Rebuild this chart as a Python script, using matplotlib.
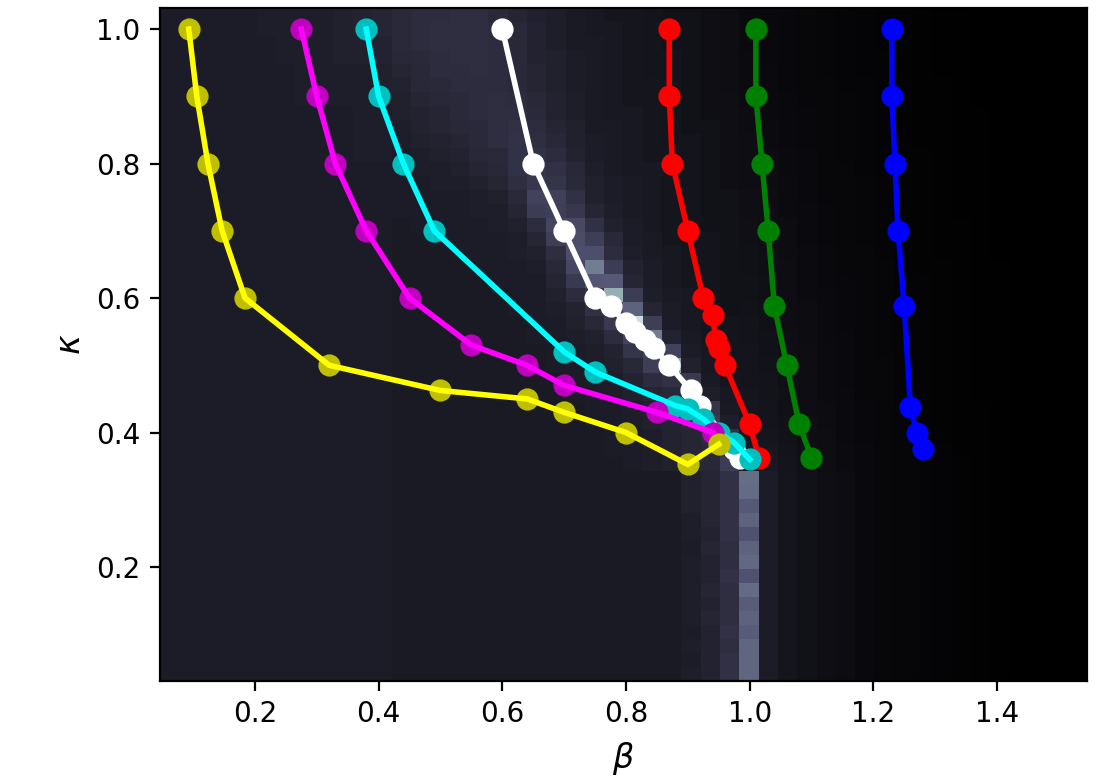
import matplotlib
matplotlib.use('Agg')
import matplotlib.pyplot as plt
import numpy as np

# heat map (percent of the bone colormap), top row first
# first 30 columns
heat_left = [
    [13,13,13,13,13,14,14,14,14,15,16,17, 19,20,20,21,21,19,17,15,14,12,11,10,10, 9, 8, 8, 7, 6],
    [13,13,13,13,13,14,14,14,14,15,16,17, 19,20,21,21,21,20,18,16,14,12,11,11,10, 9, 8, 8, 7, 6],
    [13,13,13,13,13,13,14,14,14,15,15,16, 19,20,21,21,21,20,18,16,14,12,12,11,10, 9, 8, 8, 7, 6],
    [13,13,13,13,13,13,14,14,14,15,15,16, 18,19,20,21,21,20,18,16,15,13,12,11,10, 9, 9, 8, 7, 6],
    [13,13,13,13,13,13,13,14,14,14,14,15, 17,18,20,20,21,20,19,17,15,13,12,11,10, 9, 9, 8, 7, 6],
    [13,13,13,13,13,13,13,14,14,14,14,15, 16,18,19,20,20,20,19,17,15,13,12,11,10,10, 9, 8, 7, 6],
    [13,13,13,13,13,13,13,14,14,14,14,15, 15,17,18,19,20,21,20,18,16,14,12,11,10,10, 9, 8, 7, 7],
    [13,13,13,13,13,13,13,13,13,13,14,14, 15,16,17,19,20,21,21,19,16,14,12,11,11,10, 9, 8, 7, 7],
    [13,13,13,13,13,13,13,13,13,13,14,14, 14,16,17,18,19,21,22,20,17,15,12,12,11,10, 9, 8, 8, 7],
    [13,13,13,13,13,13,13,13,13,13,14,14, 14,15,16,17,19,21,23,21,18,15,13,12,11,10, 9, 9, 8, 7],
    [13,13,13,13,13,13,13,13,13,13,14,14, 13,14,15,16,18,19,23,23,20,16,13,12,11,10,10, 9, 8, 7],
    [13,13,13,13,13,13,13,13,13,13,13,13, 13,14,14,15,17,18,23,24,22,18,14,12,11,11,10, 9, 8, 7],
    [13,13,13,13,13,13,13,13,13,13,13,13, 13,13,14,14,15,17,21,25,24,19,15,13,12,11,10, 9, 8, 7],
    [13,13,13,13,13,13,13,13,13,13,13,13, 13,13,13,13,14,15,19,30,29,22,15,13,12,11,10, 9, 8, 8],
    [13,13,13,13,13,13,13,13,13,13,13,13, 13,13,13,13,14,14,17,27,28,25,17,14,12,11,10, 9, 8, 8],
    [13,13,13,13,13,13,13,13,13,13,13,13, 12,13,13,13,13,14,15,20,31,33,22,15,13,11,10, 9, 8, 8],
    [13,13,13,13,13,13,13,13,13,13,13,13, 12,12,13,13,13,13,14,17,28,34,28,18,13,12,10, 9, 9, 8],
    [13,13,13,13,13,13,13,13,13,13,13,13, 12,12,12,13,13,13,14,15,21,35,35,20,14,12,11,10, 9, 8],
    [13,13,13,13,13,13,13,13,13,13,13,13, 12,12,12,12,13,13,13,14,18,32,51,27,16,13,11,10, 9, 8],
    [13,13,13,13,13,13,13,13,13,13,13,13, 12,12,12,12,12,13,13,13,17,26,38,39,17,13,11,10, 9, 8],
    [13,13,13,13,13,13,13,13,13,13,13,13, 12,12,12,12,12,12,13,13,15,20,24,67,27,14,12,11, 9, 8],
    [13,13,13,13,13,13,13,13,13,13,13,13, 12,12,12,12,12,12,13,13,14,16,22,30,42,17,13,11, 9, 8],
    [13,13,13,13,13,13,13,13,13,13,13,13, 12,12,12,12,12,12,12,13,13,15,18,26,85,28,13,11,10, 9],
    [13,13,13,13,13,13,13,13,13,13,13,13, 12,12,12,12,12,12,12,13,13,14,15,20,30,50,16,12,10, 9],
    [13,13,13,13,13,13,13,13,13,13,13,13, 12,12,12,12,12,12,12,12,13,13,14,16,24,30,30,13,11, 9],
    [13,13,13,13,13,13,13,13,13,13,13,13, 12,12,12,12,12,12,12,12,13,13,14,15,18,28,62,15,11, 9],
    [13,13,13,13,13,13,13,13,13,13,13,13, 12,12,12,12,12,12,12,12,12,13,13,14,16,20,22,26,12,10],
    [13,13,13,13,13,13,13,13,13,13,13,13, 12,12,12,12,12,12,12,12,12,13,13,14,15,17,18,21,14,11],
    [13,13,13,13,13,13,13,13,13,13,13,13, 12,12,12,12,12,12,12,12,12,12,13,13,14,15,17,19,24,12],
    [13,13,13,13,13,13,13,13,13,13,13,13, 12,12,12,12,12,12,12,12,12,12,13,13,14,15,16,18,26,14],
    [13,13,13,13,13,13,13,13,13,13,13,13, 12,12,12,12,12,12,12,12,12,12,12,13,13,14,16,17,20,22],
    [13,13,13,13,13,13,13,13,13,13,13,13, 12,12,12,12,12,12,12,12,12,12,12,13,13,14,16,17,18,25],
    [13,13,13,13,13,13,13,13,13,13,13,13, 12,12,12,12,12,12,12,12,12,12,12,12,13,14,15,17,18,27],
    [13,13,13,13,13,13,13,13,13,13,13,13, 12,12,12,12,12,12,12,12,12,12,12,12,12,12,12,15,17,22],
    [13,13,13,13,13,13,13,13,13,13,13,13, 12,12,12,12,12,12,12,12,12,12,12,12,12,12,12,15,17,22],
    [13,13,13,13,13,13,13,13,13,13,13,13, 12,12,12,12,12,12,12,12,12,12,12,12,12,12,12,15,17,22],
    [13,13,13,13,13,13,13,13,13,13,13,13, 12,12,12,12,12,12,12,12,12,12,12,12,12,12,12,14,17,22],
    [13,13,13,13,13,13,13,13,13,13,13,13, 12,12,12,12,12,12,12,12,12,12,12,12,12,12,12,14,16,22],
    [13,13,13,13,13,13,13,13,13,13,13,13, 12,12,12,12,12,12,12,12,12,12,12,12,12,12,12,13,17,21],
    [13,13,13,13,13,13,13,13,13,13,13,13, 12,12,12,12,12,12,12,12,12,12,12,12,12,12,12,14,16,21],
    [13,13,13,13,13,13,13,13,13,13,13,13, 12,12,12,12,12,12,12,12,12,12,12,12,12,12,12,14,16,22],
    [13,13,13,13,13,13,13,13,13,13,13,13, 12,12,12,12,12,12,12,12,12,12,12,12,12,12,12,14,17,21],
    [13,13,13,13,13,13,13,13,13,13,13,13, 12,12,12,12,12,12,12,12,12,12,12,12,12,12,12,14,16,21],
    [13,13,13,13,13,13,13,13,13,13,13,13, 12,12,12,12,12,12,12,12,12,12,12,12,12,12,12,14,17,21],
    [13,13,13,13,13,13,13,13,13,13,13,13, 12,12,12,12,12,12,12,12,12,12,12,12,12,12,12,13,16,22],
    [13,13,13,13,13,13,13,13,13,13,13,13, 12,12,12,12,12,12,12,12,12,12,12,12,12,12,12,14,16,21],
    [13,13,13,13,13,13,13,13,13,13,13,13, 12,12,12,12,12,12,12,12,12,12,12,12,12,12,12,13,16,22],
    [13,13,13,13,13,13,13,13,13,13,13,13, 12,12,12,12,12,12,12,12,12,12,12,12,12,12,12,14,16,22],
]

# last 18 columns, with a decimal since they fade out slowly
heat_right = [
    [ 5.0, 4.5, 4.0, 3.5, 3.0, 2.5, 2.2, 1.9, 1.6, 1.3, 1.1, 0.9, 0.7, 0.5, 0.4, 0.2, 0.1, 0.0],
    [ 5.0, 4.5, 4.0, 3.5, 3.0, 2.5, 2.2, 1.9, 1.6, 1.3, 1.1, 0.9, 0.7, 0.5, 0.4, 0.2, 0.1, 0.0],
    [ 5.0, 4.6, 4.0, 3.6, 3.0, 2.6, 2.2, 1.9, 1.6, 1.3, 1.1, 0.9, 0.7, 0.5, 0.4, 0.2, 0.1, 0.0],
    [ 5.1, 4.6, 4.1, 3.6, 3.1, 2.6, 2.3, 2.0, 1.6, 1.4, 1.1, 0.9, 0.7, 0.5, 0.4, 0.2, 0.1, 0.0],
    [ 5.2, 4.7, 4.1, 3.7, 3.1, 2.7, 2.3, 2.0, 1.7, 1.4, 1.1, 0.9, 0.7, 0.5, 0.4, 0.2, 0.1, 0.0],
    [ 5.3, 4.8, 4.2, 3.8, 3.2, 2.7, 2.4, 2.0, 1.7, 1.4, 1.2, 1.0, 0.7, 0.5, 0.4, 0.2, 0.1, 0.0],
    [ 5.4, 4.9, 4.3, 3.9, 3.2, 2.8, 2.4, 2.1, 1.7, 1.4, 1.2, 1.0, 0.7, 0.6, 0.4, 0.2, 0.1, 0.0],
    [ 5.6, 5.0, 4.4, 4.0, 3.3, 2.9, 2.5, 2.1, 1.8, 1.5, 1.2, 1.0, 0.8, 0.6, 0.4, 0.2, 0.1, 0.0],
    [ 5.8, 5.1, 4.5, 4.1, 3.4, 3.0, 2.5, 2.2, 1.8, 1.5, 1.2, 1.0, 0.8, 0.6, 0.4, 0.2, 0.1, 0.0],
    [ 6.0, 5.3, 4.6, 4.2, 3.5, 3.0, 2.6, 2.2, 1.8, 1.5, 1.3, 1.0, 0.8, 0.6, 0.4, 0.3, 0.1, 0.0],
    [ 6.2, 5.5, 4.8, 4.3, 3.6, 3.1, 2.6, 2.3, 1.9, 1.6, 1.3, 1.0, 0.8, 0.6, 0.4, 0.3, 0.1, 0.0],
    [ 6.4, 5.6, 5.0, 4.4, 3.7, 3.2, 2.7, 2.3, 1.9, 1.6, 1.3, 1.1, 0.8, 0.6, 0.4, 0.3, 0.1, 0.0],
    [ 6.6, 5.8, 5.1, 4.5, 3.8, 3.3, 2.8, 2.4, 2.0, 1.7, 1.4, 1.1, 0.8, 0.6, 0.5, 0.3, 0.1, 0.0],
    [ 6.8, 6.0, 5.2, 4.6, 3.9, 3.4, 2.9, 2.4, 2.0, 1.7, 1.4, 1.1, 0.9, 0.7, 0.5, 0.3, 0.1, 0.0],
    [ 7.0, 6.2, 5.4, 4.7, 4.0, 3.5, 3.0, 2.5, 2.1, 1.7, 1.4, 1.1, 0.9, 0.7, 0.5, 0.3, 0.1, 0.0],
    [ 7.2, 6.4, 5.5, 4.8, 4.1, 3.6, 3.0, 2.6, 2.1, 1.8, 1.5, 1.2, 0.9, 0.7, 0.5, 0.3, 0.2, 0.0],
    [ 7.4, 6.6, 5.6, 5.0, 4.2, 3.7, 3.1, 2.6, 2.2, 1.8, 1.5, 1.2, 0.9, 0.7, 0.5, 0.3, 0.2, 0.0],
    [ 7.6, 6.8, 5.8, 5.1, 4.3, 3.8, 3.2, 2.7, 2.2, 1.9, 1.5, 1.2, 1.0, 0.7, 0.5, 0.3, 0.2, 0.0],
    [ 7.8, 7.0, 6.0, 5.2, 4.5, 3.9, 3.3, 2.8, 2.3, 1.9, 1.6, 1.2, 1.0, 0.8, 0.6, 0.3, 0.2, 0.0],
    [ 8.0, 7.2, 6.2, 5.3, 4.6, 4.0, 3.4, 2.8, 2.3, 2.0, 1.6, 1.3, 1.0, 0.8, 0.6, 0.3, 0.2, 0.0],
    [ 8.2, 7.4, 6.3, 5.4, 4.7, 4.0, 3.4, 2.9, 2.4, 2.0, 1.6, 1.3, 1.0, 0.8, 0.6, 0.3, 0.2, 0.0],
    [ 8.4, 7.5, 6.4, 5.6, 4.8, 4.1, 3.5, 3.0, 2.4, 2.0, 1.7, 1.3, 1.0, 0.8, 0.6, 0.4, 0.2, 0.0],
    [ 8.6, 7.7, 6.6, 5.7, 4.9, 4.2, 3.6, 3.0, 2.5, 2.1, 1.7, 1.3, 1.0, 0.8, 0.6, 0.4, 0.2, 0.0],
    [ 8.8, 7.9, 6.8, 5.8, 5.0, 4.3, 3.6, 3.1, 2.5, 2.1, 1.7, 1.4, 1.1, 0.8, 0.6, 0.4, 0.2, 0.0],
    [ 9.0, 8.1, 7.0, 6.0, 5.1, 4.4, 3.7, 3.1, 2.6, 2.2, 1.8, 1.4, 1.1, 0.8, 0.6, 0.4, 0.2, 0.0],
    [ 9.3, 8.3, 7.1, 6.1, 5.2, 4.5, 3.8, 3.2, 2.6, 2.2, 1.8, 1.4, 1.1, 0.9, 0.6, 0.4, 0.2, 0.0],
    [ 9.6, 8.6, 7.3, 6.2, 5.3, 4.6, 3.9, 3.2, 2.7, 2.2, 1.8, 1.4, 1.1, 0.9, 0.6, 0.4, 0.2, 0.0],
    [10.0, 8.9, 7.5, 6.4, 5.4, 4.7, 3.9, 3.3, 2.7, 2.3, 1.9, 1.5, 1.1, 0.9, 0.7, 0.4, 0.2, 0.0],
    [10.4, 9.2, 7.7, 6.6, 5.6, 4.8, 4.0, 3.4, 2.8, 2.3, 1.9, 1.5, 1.2, 0.9, 0.7, 0.4, 0.2, 0.0],
    [10.8, 9.6, 8.0, 6.8, 5.8, 4.9, 4.1, 3.4, 2.8, 2.3, 1.9, 1.5, 1.2, 0.9, 0.7, 0.4, 0.2, 0.0],
    [11.2,10.0, 8.3, 7.0, 6.0, 5.0, 4.2, 3.5, 2.9, 2.4, 1.9, 1.5, 1.2, 0.9, 0.7, 0.4, 0.2, 0.0],
    [11.6,10.6, 8.8, 7.3, 6.2, 5.1, 4.3, 3.6, 2.9, 2.4, 2.0, 1.5, 1.2, 0.9, 0.7, 0.4, 0.2, 0.0],
    [12.0,11.2, 9.4, 7.7, 6.4, 5.3, 4.4, 3.7, 3.0, 2.5, 2.0, 1.6, 1.2, 0.9, 0.7, 0.5, 0.2, 0.0],
    [46.0,13.0,10.0, 8.0, 6.8, 5.6, 4.6, 3.8, 3.1, 2.6, 2.1, 1.6, 1.2, 0.9, 0.7, 0.5, 0.2, 0.0],
    [45.0,13.0,10.0, 8.0, 6.8, 5.6, 4.6, 3.8, 3.1, 2.6, 2.1, 1.6, 1.2, 0.9, 0.7, 0.5, 0.2, 0.0],
    [39.0,13.0,10.0, 8.0, 6.8, 5.6, 4.6, 3.8, 3.1, 2.6, 2.1, 1.6, 1.2, 0.9, 0.7, 0.5, 0.2, 0.0],
    [42.0,13.0,10.0, 8.0, 6.8, 5.6, 4.6, 3.8, 3.1, 2.6, 2.1, 1.6, 1.2, 0.9, 0.7, 0.5, 0.2, 0.0],
    [36.0,13.0,10.0, 8.0, 6.8, 5.6, 4.6, 3.8, 3.1, 2.6, 2.1, 1.6, 1.2, 0.9, 0.7, 0.5, 0.2, 0.0],
    [42.0,13.0,10.0, 8.0, 6.8, 5.6, 4.6, 3.8, 3.1, 2.6, 2.1, 1.6, 1.2, 0.9, 0.7, 0.5, 0.2, 0.0],
    [44.0,13.0,10.0, 8.0, 6.8, 5.6, 4.6, 3.8, 3.1, 2.6, 2.1, 1.6, 1.2, 0.9, 0.7, 0.5, 0.2, 0.0],
    [36.0,13.0,10.0, 8.0, 6.8, 5.6, 4.6, 3.8, 3.1, 2.6, 2.1, 1.6, 1.2, 0.9, 0.7, 0.5, 0.2, 0.0],
    [45.0,13.0,10.0, 8.0, 6.8, 5.6, 4.6, 3.8, 3.1, 2.6, 2.1, 1.6, 1.2, 0.9, 0.7, 0.5, 0.2, 0.0],
    [40.0,13.0,10.0, 8.0, 6.8, 5.6, 4.6, 3.8, 3.1, 2.6, 2.1, 1.6, 1.2, 0.9, 0.7, 0.5, 0.2, 0.0],
    [42.0,13.0,10.0, 8.0, 6.8, 5.6, 4.6, 3.8, 3.1, 2.6, 2.1, 1.6, 1.2, 0.9, 0.7, 0.5, 0.2, 0.0],
    [40.0,13.0,10.0, 8.0, 6.8, 5.6, 4.6, 3.8, 3.1, 2.6, 2.1, 1.6, 1.2, 0.9, 0.7, 0.5, 0.2, 0.0],
    [43.0,13.0,10.0, 8.0, 6.8, 5.6, 4.6, 3.8, 3.1, 2.6, 2.1, 1.6, 1.2, 0.9, 0.7, 0.5, 0.2, 0.0],
    [43.0,13.0,10.0, 8.0, 6.8, 5.6, 4.6, 3.8, 3.1, 2.6, 2.1, 1.6, 1.2, 0.9, 0.7, 0.5, 0.2, 0.0],
    [43.0,13.0,10.0, 8.0, 6.8, 5.6, 4.6, 3.8, 3.1, 2.6, 2.1, 1.6, 1.2, 0.9, 0.7, 0.5, 0.2, 0.0],
]

beta_blue = [1.23, 1.23, 1.235, 1.24, 1.25, 1.26, 1.27, 1.28]
kappa_blue = [1.0, 0.9, 0.8, 0.7, 0.5875, 0.4375, 0.4, 0.375]

beta_green = [1.01, 1.01, 1.02, 1.03, 1.04, 1.06, 1.08, 1.10]
kappa_green = [1.0, 0.9, 0.8, 0.7, 0.5875, 0.5, 0.4125, 0.3625]

beta_red = [0.87, 0.87, 0.875, 0.90, 0.925, 0.94, 0.945, 0.95, 0.96, 1.0, 1.015]
kappa_red = [1.0, 0.9, 0.8, 0.7, 0.6, 0.575, 0.5375, 0.525, 0.5, 0.4125, 0.3625]

beta_white = [0.60, 0.65, 0.70, 0.75, 0.775, 0.80, 0.815, 0.83, 0.845, 0.87, 0.905, 0.92, 0.975, 0.985]
kappa_white = [1.0, 0.8, 0.7, 0.6, 0.5875, 0.5625, 0.55, 0.5375, 0.525, 0.5, 0.4625, 0.44, 0.375, 0.3625]

beta_cyan = [0.38, 0.40, 0.44, 0.49, 0.70, 0.75, 0.88, 0.90, 0.925, 0.95, 0.975, 1.0]
kappa_cyan = [1.0, 0.9, 0.8, 0.7, 0.52, 0.49, 0.44, 0.435, 0.42, 0.40, 0.385, 0.36]

beta_magenta = [0.275, 0.30, 0.33, 0.38, 0.45, 0.55, 0.64, 0.70, 0.85, 0.94]
kappa_magenta = [1.0, 0.9, 0.8, 0.7, 0.6, 0.53, 0.5, 0.47, 0.43, 0.40]

beta_yellow = [0.093, 0.106, 0.124, 0.147, 0.184, 0.32, 0.50, 0.64, 0.70, 0.80, 0.90, 0.95]
kappa_yellow = [1.0, 0.9, 0.8, 0.7, 0.6, 0.5, 0.4625, 0.45, 0.43, 0.40, 0.3525, 0.3825]

plt.rcParams['mathtext.fontset'] = 'dejavusans'

fig = plt.figure(figsize=(5.56, 3.9), dpi=200)
ax = fig.add_axes([160 / 1112, 99 / 780, 927 / 1112, 673 / 780])

heat = np.hstack([heat_left, heat_right]) / 100
ax.imshow(heat, cmap='bone', vmin=0, vmax=1, aspect='auto',
          interpolation='nearest', extent=(0.0465, 1.5455, 0.0305, 1.0313))

# dots first, the line goes over them
curves = [
    (beta_blue, kappa_blue, 'b', 'b'),
    (beta_green, kappa_green, 'g', 'g'),
    (beta_red, kappa_red, 'r', 'r'),
    (beta_white, kappa_white, 'w', 'w'),
    (beta_cyan, kappa_cyan, 'c', 'cyan'),
    (beta_magenta, kappa_magenta, 'm', 'magenta'),
    (beta_yellow, kappa_yellow, 'y', 'yellow'),
]
for b, k, dot_color, line_color in curves:
    ax.plot(b, k, 'o', color=dot_color, ms=7)
    ax.plot(b, k, '-', color=line_color, lw=2)

ax.set_xticks([0.2, 0.4, 0.6, 0.8, 1.0, 1.2, 1.4])
ax.set_yticks([0.2, 0.4, 0.6, 0.8, 1.0])
ax.set_xlim(0.0465, 1.5455)
ax.set_ylim(0.0305, 1.0313)
ax.set_xlabel(r'$\beta$', fontsize=12, labelpad=4)
ax.set_ylabel(r'$\kappa$', fontsize=12, labelpad=3.5)

fig.savefig('out.png', dpi=200)
